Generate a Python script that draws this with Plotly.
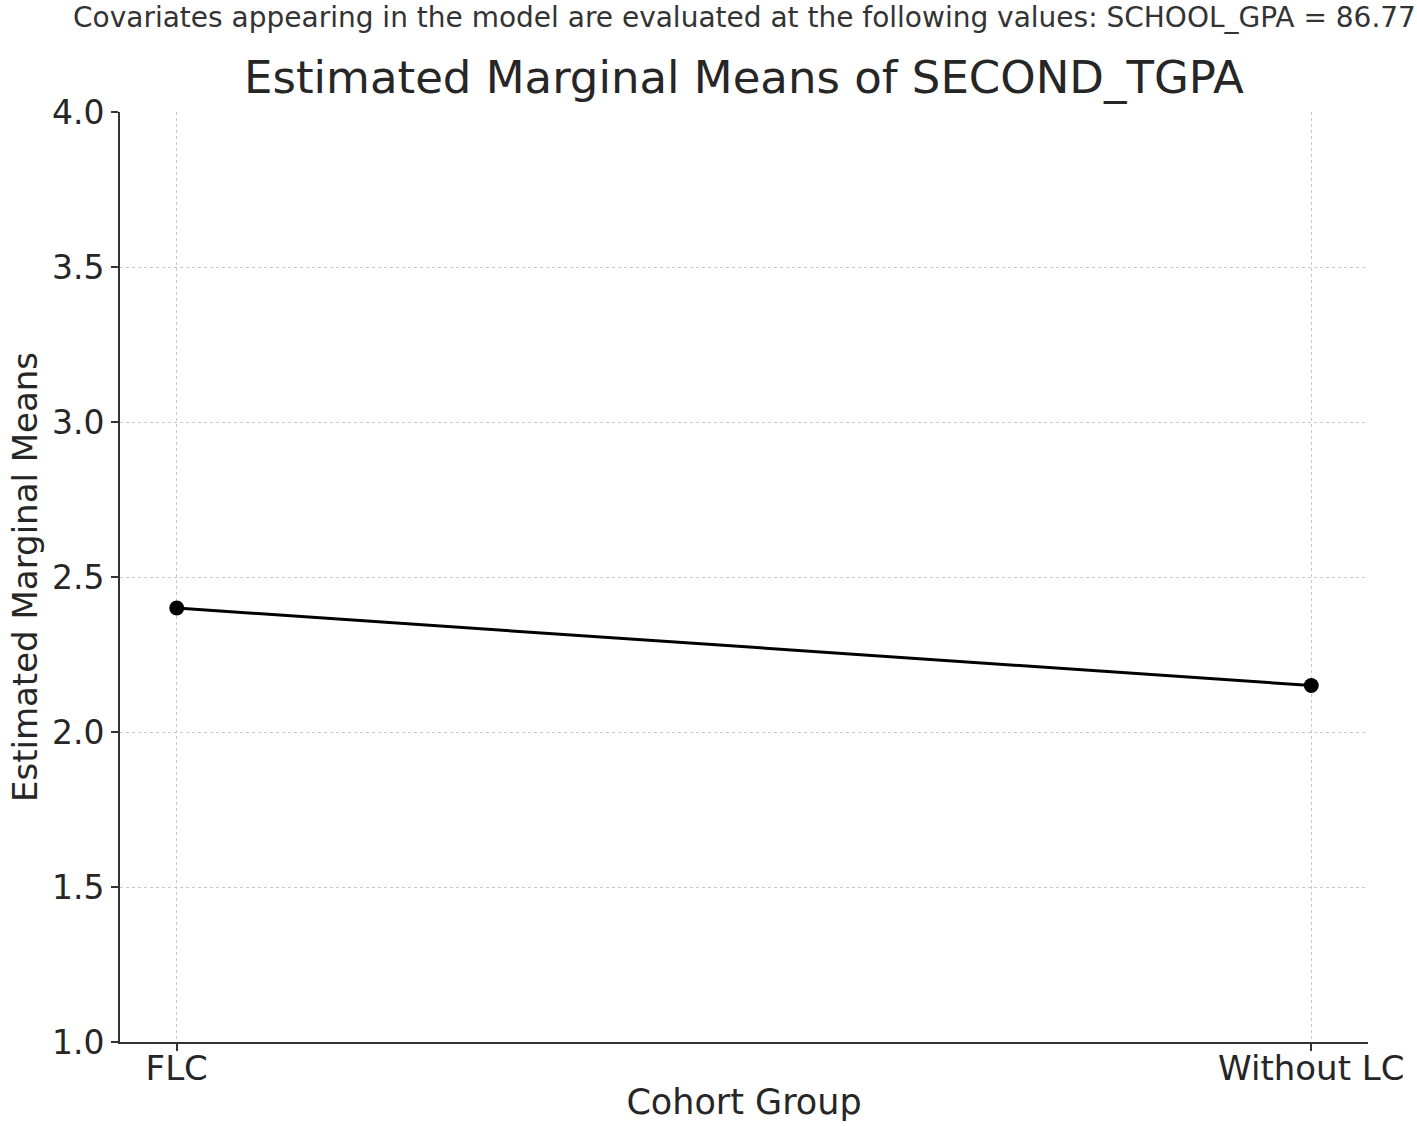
import plotly.graph_objects as go

groups = ["FLC", "Without LC"]
means = [2.40, 2.15]
y_ticks = [1.0, 1.5, 2.0, 2.5, 3.0, 3.5, 4.0]
y_tick_labels = ["1.0", "1.5", "2.0", "2.5", "3.0", "3.5", "4.0"]

FONT = "DejaVu Sans, Noto Sans, sans-serif"
TXT = "#262626"

fig = go.Figure()
fig.add_trace(go.Scatter(
    x=groups, y=means, mode="lines+markers",
    line=dict(color="black", width=3),
    marker=dict(color="black", size=15),
    showlegend=False,
))

fig.update_layout(
    width=1417, height=1126,
    margin=dict(l=120, r=49, t=112, b=84, autoexpand=False),
    paper_bgcolor="white", plot_bgcolor="white",
    font=dict(family=FONT, color=TXT),
    title=dict(text="Estimated Marginal Means of SECOND_TGPA",
               font=dict(size=45, family=FONT, color=TXT),
               x=0.5, xref="paper", xanchor="center",
               y=1 - 77 / 1126, yanchor="middle"),
    annotations=[dict(
        text="Covariates appearing in the model are evaluated at the following values: SCHOOL_GPA = 86.77",
        xref="paper", yref="paper", x=0.5, y=1 + (112 - 17) / 930,
        xanchor="center", yanchor="middle", showarrow=False,
        font=dict(size=28, family=FONT, color="#333333"))],
)

fig.update_xaxes(
    type="category", range=[-0.05, 1.05], automargin=False,
    showline=True, linecolor="#333333", linewidth=2,
    ticks="outside", ticklen=7, tickwidth=1.5, tickcolor="#333333",
    showgrid=True, gridcolor="#c8c8c8", gridwidth=1.3, griddash="dot",
    tickfont=dict(size=34, family=FONT, color=TXT),
    ticklabelstandoff=-12,
    title=dict(text="Cohort Group", font=dict(size=35, family=FONT, color=TXT), standoff=3),
    zeroline=False,
)
fig.update_yaxes(
    range=[1.0, 4.0], tickvals=y_ticks, ticktext=y_tick_labels, automargin=False,
    showline=True, linecolor="#333333", linewidth=2,
    ticks="outside", ticklen=7, tickwidth=1.5, tickcolor="#333333",
    showgrid=True, gridcolor="#c8c8c8", gridwidth=1.3, griddash="dot",
    tickfont=dict(size=33, family=FONT, color=TXT),
    title=dict(text="Estimated Marginal Means", font=dict(size=34, family=FONT, color=TXT), standoff=4),
    zeroline=False,
)

fig.write_html("out.html", config={"displayModeBar": False},
               post_script="document.body.style.margin='0';")
